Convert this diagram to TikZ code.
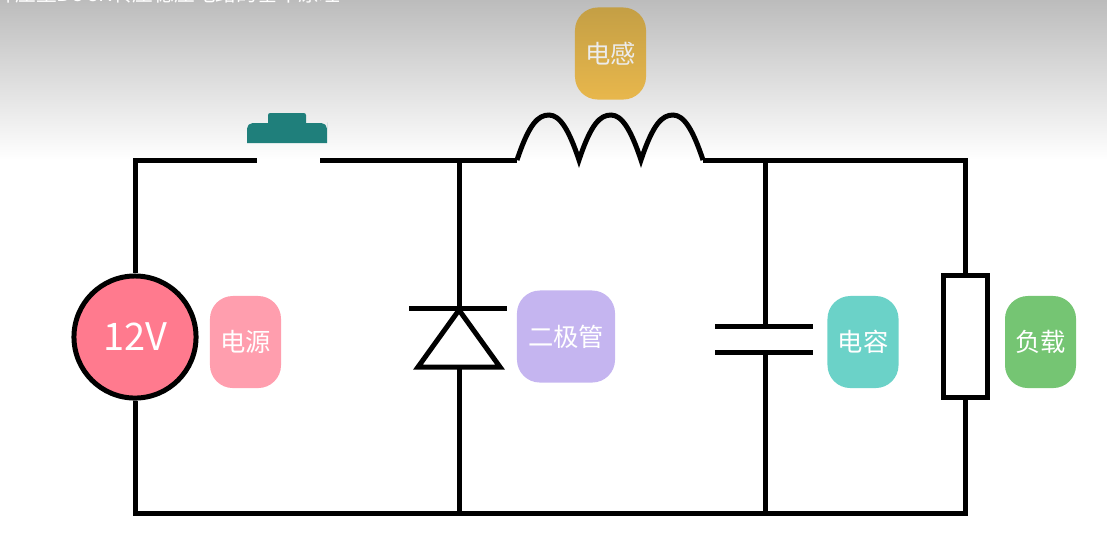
\documentclass[tikz,border=0pt]{standalone}
\usepackage{fontspec}
\setmainfont{Noto Sans CJK SC}
\usetikzlibrary{positioning}
\definecolor{wirecolor}{HTML}{000000}
\definecolor{sourcered}{HTML}{FF7A8E}
\definecolor{sourcetag}{HTML}{FF9EAE}
\definecolor{coiltagtop}{HTML}{C49F45}
\definecolor{coiltagbot}{HTML}{E8B74C}
\definecolor{diodetag}{HTML}{C5B5F0}
\definecolor{captag}{HTML}{6BD2C8}
\definecolor{loadtag}{HTML}{75C573}
\definecolor{buttoncolor}{HTML}{1F7F7B}
\definecolor{fadegray}{HTML}{BCBCBC}

\begin{document}
\begin{tikzpicture}[x=0.01cm,y=-0.01cm,line join=miter]
    \tikzstyle{wire}=[draw=wirecolor,line width=1.42pt]
    \tikzstyle{tag}=[shape=rectangle,rounded corners=6.5pt,text=white,font=\fontsize{7.2}{8}\selectfont,minimum width=0.71cm,minimum height=0.92cm,inner sep=0pt]
    \useasboundingbox (0,0) rectangle (1107,535);

    % grey band behind the title
    \begin{scope}
      \clip (0,0) rectangle (1107,160);
      \shade[top color=fadegray,bottom color=white] (0,0) rectangle (1107,160);
      \node[text=white,font=\fontsize{5.9}{8}\selectfont,anchor=base west,inner sep=0pt] (title) at (-6,1) {降压型BUCK转压稳压电路的基本原理};
    \end{scope}

    % corners and joints
    \coordinate (TL) at (135,160);
    \coordinate (TR) at (965,160);
    \coordinate (BL) at (135,513);
    \coordinate (BR) at (965,513);
    \coordinate (SWa) at (257,160);
    \coordinate (SWb) at (320,160);
    \coordinate (Dtop) at (459,160);
    \coordinate (Dbot) at (459,513);
    \coordinate (La) at (517,160);
    \coordinate (Lb) at (703,160);
    \coordinate (Ctop) at (765,160);
    \coordinate (Cbot) at (765,513);

    % parts
    \node[circle,wire,fill=sourcered,text=white,minimum size=1.22cm,inner sep=0pt,font=\fontsize{10.8}{12}\selectfont] (source) at (135,337) {12V};
    \node[rectangle,wire,fill=white,minimum width=0.44cm,minimum height=1.21cm,inner sep=0pt] (load) at (965,336.5) {};
    \coordinate (Dk) at (459,308);
    \coordinate (Da) at (459,367);
    \coordinate (Pa) at (765,326);
    \coordinate (Pb) at (765,352);

    \path[wire]
    (source.north) -- (TL) -- (SWa)
    (SWb) -- (La)
    (Lb) -- (TR) -- (load.north)
    (source.south) -- (BL) -- (BR) -- (load.south)
    (Dtop) -- (Dk)
    (Da) -- (Dbot)
    (Ctop) -- (Pa)
    (Pb) -- (Cbot);

    % diode
    \draw[wire] (409,308) -- (507,308);
    \draw[wire] (459,310) -- (418,367) -- (500,367) -- cycle;

    % capacitor
    \draw[wire] (715,326) -- (813,326);
    \draw[wire] (715,352) -- (813,352);

    % inductor
    \draw[wire] (La) .. controls (529,124) and (538,115) .. (549,115) .. controls (560,115) and (569,130) .. (579,160)
      .. controls (591,124) and (600,115) .. (611,115) .. controls (622,115) and (631,130) .. (641,160)
      .. controls (653,124) and (662,115) .. (673,115) .. controls (684,115) and (693,130) .. (Lb);

    % push button
    \fill[buttoncolor,rounded corners=0.6pt] (268,128) -- (268,113) -- (306,113) -- (306,128) -- cycle;
    \fill[buttoncolor,rounded corners=1.6pt] (247,143) [sharp corners] -- (247,128) [rounded corners=1.6pt] -- (247,123) -- (327,123) -- (327,128) [sharp corners] -- (327,143) -- cycle;

    % labels
    \node[tag,fill=sourcetag] (sourcetext) at (245.5,342) {电源};
    \node[tag,fill=diodetag,minimum width=0.98cm] (diodetext) at (566,336.5) {二极管};
    \node[tag,fill=captag] (captext) at (863,342) {电容};
    \node[tag,fill=loadtag] (loadtext) at (1040.5,342) {负载};
    \node[tag,top color=coiltagtop,bottom color=coiltagbot,text=white!85!gray] (coiltext) at (610.5,53.5) {电感};
\end{tikzpicture}
\end{document}
